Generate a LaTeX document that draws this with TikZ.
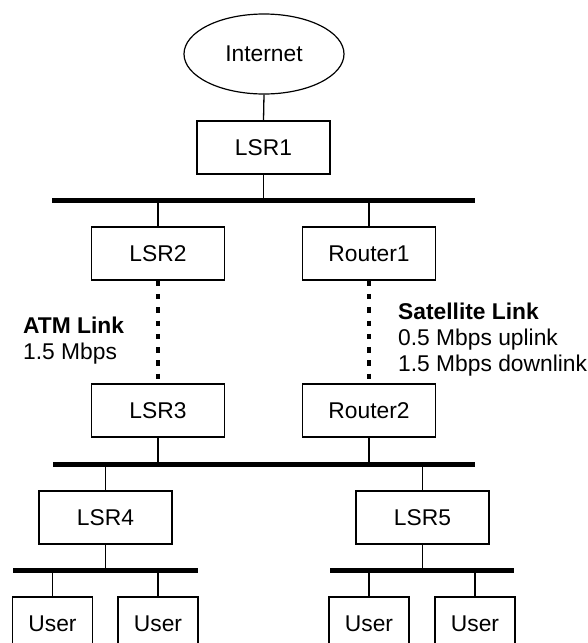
\documentclass[tikz,border=0pt]{standalone}
\usepackage{fontspec}
\setmainfont{Liberation Sans}
\usetikzlibrary{shapes.geometric}

\tikzset{
  device/.style={draw=black, line width=1.2pt, fill=white, rectangle,
    minimum width=133pt, minimum height=53pt, inner sep=0pt},
  userbox/.style={device, minimum width=80pt},
  cloud/.style={draw=black, line width=1.2pt, ellipse,
    minimum width=160pt, minimum height=80pt, inner sep=0pt},
  wire/.style={draw=black, line width=1.3pt},
  bus/.style={draw=black, line width=5pt},
  slowlink/.style={draw=black, line width=4.5pt, dash pattern=on 5.5pt off 7.8pt},
  note/.style={anchor=north west, align=left, inner sep=0pt,
    font=\fontsize{22.8}{26}\selectfont}
}

\begin{document}
\begin{tikzpicture}[x=1pt, y=-1pt,
  every node/.append style={font=\fontsize{22.8}{26}\selectfont}]
  \useasboundingbox (0,0) rectangle (588,643);
  \clip (0,0) rectangle (588,643);

  % bus end points
  \coordinate (b1w) at (52,200.5);  \coordinate (b1e) at (475,200.5);
  \coordinate (b2w) at (53,464.5);  \coordinate (b2e) at (475,464.5);
  \coordinate (b3w) at (13,570);    \coordinate (b3e) at (198,570);
  \coordinate (b4w) at (330,570);   \coordinate (b4e) at (514,570);

  % devices
  \node[cloud]  (inet)  at (264,54)      {Internet};
  \node[device] (lsr1)  at (263.5,147.5) {LSR1};
  \node[device] (lsr2)  at (158,253.5)   {LSR2};
  \node[device] (rt1)   at (369,253.5)   {Router1};
  \node[device] (lsr3)  at (158,410.5)   {LSR3};
  \node[device] (rt2)   at (369,410.5)   {Router2};
  \node[device] (lsr4)  at (105.5,517.5) {LSR4};
  \node[device] (lsr5)  at (422.5,517.5) {LSR5};
  \node[userbox] (u1)   at (52.5,623.5)  {User};
  \node[userbox] (u2)   at (158,623.5)   {User};
  \node[userbox] (u3)   at (369,623.5)   {User};
  \node[userbox] (u4)   at (475,623.5)   {User};

  % buses
  \draw[bus] (b1w) -- (b1e);
  \draw[bus] (b2w) -- (b2e);
  \draw[bus] (b3w) -- (b3e);
  \draw[bus] (b4w) -- (b4e);

  % drops onto the buses
  \draw[wire] (inet.south) -- (lsr1.north);
  \draw[wire] (lsr1.south) -- (lsr1.south |- b1w);
  \draw[wire] (lsr2.north) -- (lsr2.north |- b1w);
  \draw[wire] (rt1.north)  -- (rt1.north |- b1w);
  \draw[wire] (lsr3.south) -- (lsr3.south |- b2w);
  \draw[wire] (rt2.south)  -- (rt2.south |- b2w);
  \draw[wire] (lsr4.north) -- (lsr4.north |- b2w);
  \draw[wire] (lsr5.north) -- (lsr5.north |- b2w);
  \draw[wire] (lsr4.south) -- (lsr4.south |- b3w);
  \draw[wire] (lsr5.south) -- (lsr5.south |- b4w);
  \draw[wire] (u1.north) -- (u1.north |- b3w);
  \draw[wire] (u2.north) -- (u2.north |- b3w);
  \draw[wire] (u3.north) -- (u3.north |- b4w);
  \draw[wire] (u4.north) -- (u4.north |- b4w);

  % long-haul links
  \draw[slowlink] (lsr2.south) -- (lsr3.north);
  \draw[slowlink] (rt1.south) -- (rt2.north);

  % link annotations (top edge = first baseline minus cap height)
  \node[note] (atm) at (23,316.7) {\textbf{ATM Link}\\1.5 Mbps};
  \node[note] (sat) at (398,302.5) {\textbf{Satellite Link}\\0.5 Mbps uplink\\1.5 Mbps downlink};
\end{tikzpicture}
\end{document}
